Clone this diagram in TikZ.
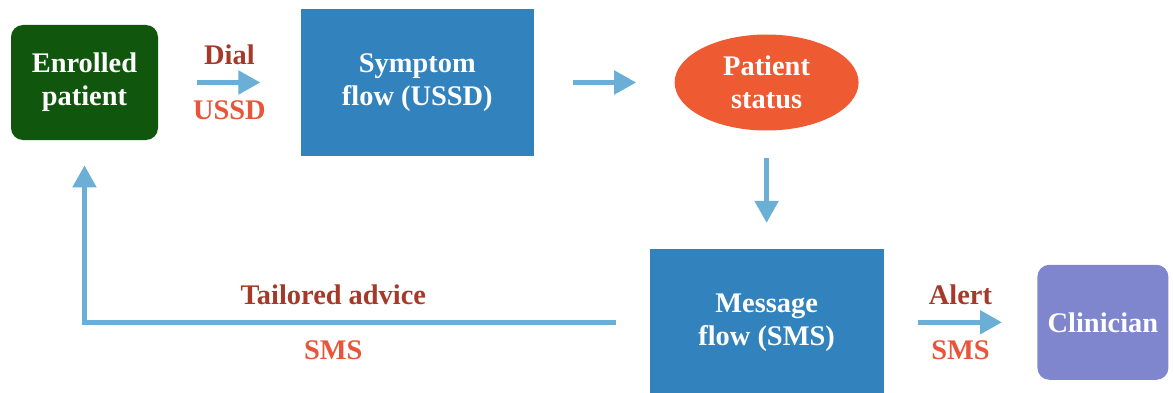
\documentclass[tikz,border=0pt]{standalone}
\usepackage{fontspec}
\setmainfont{Liberation Serif}
\usetikzlibrary{arrows.meta, positioning, shapes.geometric}

\definecolor{patientgreen}{HTML}{10560C}
\definecolor{flowblue}{HTML}{3182BD}
\definecolor{arrowblue}{HTML}{6BAED6}
\definecolor{statusorange}{HTML}{EE5A32}
\definecolor{clinicianpurple}{HTML}{7F86CE}
\definecolor{labeldark}{HTML}{A63A2A}
\definecolor{labellight}{HTML}{E8553A}

\begin{document}
\begin{tikzpicture}[
  every node/.style={align=center, font=\fontsize{14.2}{16.5}\selectfont\bfseries},
  flowbox/.style={rectangle, fill=flowblue, text=white, minimum width=116.5pt, minimum height=73pt},
  roundbox/.style={rectangle, rounded corners=6pt, text=white, minimum height=57.5pt},
  arrow/.style={-{Triangle[length=11pt, width=11.5pt]}, line width=2.5pt, arrowblue},
  toplabel/.style={inner sep=0pt, text=labeldark, yshift=14pt},
  botlabel/.style={inner sep=0pt, text=labellight, yshift=-14pt}
]
\useasboundingbox (0,0) rectangle (586.5pt,196pt);

% Nodes
\node[roundbox, fill=patientgreen, minimum width=73.5pt] (patient) at (42.25pt,154.75pt) {Enrolled\\patient};
\node[flowbox, right=71pt of patient] (symptom) {Symptom\\flow (USSD)};
\node[ellipse, fill=statusorange, text=white, inner sep=0pt, minimum width=92pt, minimum height=48pt, right=70pt of symptom] (status) {Patient\\status};
\node[flowbox, minimum width=117pt, below=59pt of status] (message) {Message\\flow (SMS)};
\node[roundbox, fill=clinicianpurple, minimum width=65.5pt, right=76.5pt of message] (clinician) {Clinician};

% Arrows
\draw[arrow, shorten <=19.5pt, shorten >=20pt] (patient) -- (symptom)
  node[midway, toplabel] {Dial} node[midway, botlabel] {USSD};
\draw[arrow, shorten <=19.5pt, shorten >=19pt] (symptom) -- (status);
\draw[arrow, shorten <=13.5pt, shorten >=13pt] (status) -- (message);
\draw[arrow, shorten <=17pt, shorten >=17.5pt] (message) -- (clinician)
  node[midway, toplabel] {Alert} node[midway, botlabel] {SMS};
\draw[arrow] ([xshift=-16.5pt]message.west) -| ([yshift=-12.5pt]patient.south)
  node[pos=0.266, toplabel] {Tailored advice} node[pos=0.266, botlabel] {SMS};

\end{tikzpicture}
\end{document}
